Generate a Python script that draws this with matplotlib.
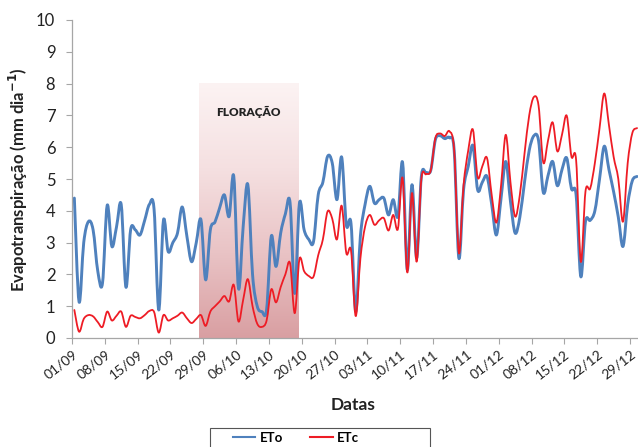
import numpy as np
import matplotlib
matplotlib.use("Agg")
import matplotlib.pyplot as plt
from matplotlib.colors import LinearSegmentedColormap
from matplotlib.path import Path
from matplotlib.patches import PathPatch, Rectangle
from matplotlib.lines import Line2D

# ---- data (daily values, 01/09 .. 30/12) ----
eto = [4.4, 1.14, 3.0, 3.66, 3.4, 2.1, 1.72, 4.17, 2.88, 3.5,
       4.19, 1.6, 3.4, 3.4, 3.24, 3.7, 4.2, 4.05, 0.88, 3.7,
       2.72, 3.0, 3.3, 4.12, 3.2, 2.4, 3.0, 3.72, 1.83, 3.4,
       3.65, 4.1, 4.5, 3.82, 5.08, 1.56, 3.5, 4.82, 2.0, 1.0,
       0.83, 0.9, 3.2, 2.25, 3.3, 3.9, 4.26, 1.4, 4.24, 3.4,
       3.1, 3.03, 4.5, 4.9, 5.71, 5.5, 4.35, 5.69, 3.56, 3.6,
       0.83, 3.2, 4.2, 4.77, 4.24, 4.35, 4.4, 3.87, 4.35, 3.82,
       5.52, 2.14, 4.82, 2.51, 5.08, 5.2, 5.27, 6.24, 6.36, 6.27,
       6.3, 5.9, 2.51, 4.66, 5.4, 6.05, 4.66, 4.9, 5.08, 4.2,
       3.24, 4.4, 5.55, 4.3, 3.3, 3.8, 4.9, 5.9, 6.36, 6.2,
       4.58, 5.1, 5.55, 4.79, 5.3, 5.66, 4.7, 4.5, 1.93, 3.66,
       3.7, 4.0, 5.0, 6.03, 5.3, 4.6, 3.8, 2.88, 4.2, 4.95,
       5.08]
etc = [0.88, 0.2, 0.6, 0.72, 0.68, 0.5, 0.35, 0.83, 0.55, 0.7,
       0.83, 0.35, 0.7, 0.66, 0.62, 0.72, 0.85, 0.82, 0.17, 0.72,
       0.55, 0.62, 0.7, 0.8, 0.62, 0.47, 0.6, 0.72, 0.38, 0.83,
       1.0, 1.15, 1.32, 1.15, 1.67, 0.52, 1.2, 1.85, 1.0, 0.45,
       0.35, 0.55, 1.53, 1.12, 1.6, 2.0, 2.35, 0.78, 2.48, 2.1,
       1.95, 1.93, 2.6, 3.1, 3.98, 3.75, 3.1, 4.16, 2.67, 2.75,
       0.69, 2.5, 3.5, 3.87, 3.56, 3.7, 3.77, 3.38, 3.87, 3.43,
       5.03, 2.06, 4.56, 2.4, 5.0, 5.15, 5.27, 6.29, 6.43, 6.35,
       6.5, 5.9, 2.67, 4.8, 5.9, 6.55, 5.06, 5.4, 5.66, 4.5,
       3.63, 4.8, 6.39, 4.9, 3.82, 4.5, 5.8, 7.0, 7.58, 7.3,
       5.52, 6.2, 6.78, 5.87, 6.4, 6.99, 5.71, 5.6, 2.4, 4.61,
       4.7, 5.5, 6.6, 7.69, 6.7, 5.7, 5.0, 3.66, 5.5, 6.45,
       6.6]
tick_labels = ["01/09", "08/09", "15/09", "22/09", "29/09", "06/10", "13/10",
               "20/10", "27/10", "03/11", "10/11", "17/11", "24/11", "01/12",
               "08/12", "15/12", "22/12", "29/12"]
flower_start, flower_end = 27.0, 48.2   # days since 01/09
flower_top = 8
flower_label = "FLORAÇÃO"

plt.rcParams['font.family'] = ['Lato', 'DejaVu Sans']
plt.rcParams['mathtext.fontset'] = 'dejavusans'

W, H = 638, 447
fig = plt.figure(figsize=(W / 100, H / 100), dpi=100)
ax = fig.add_axes([72 / W, (H - 338) / H, (638 - 72) / W, (338 - 20) / H])

days = np.arange(len(eto)) + 0.5


def smooth_path(x, y, tension=1.0):
    """Smoothed line through the data points (Catmull-Rom as cubic Bezier)."""
    x = np.asarray(x, float)
    y = np.asarray(y, float)
    pts = np.column_stack([x, y])
    n = len(pts)
    verts = [pts[0]]
    codes = [Path.MOVETO]
    for i in range(n - 1):
        p0 = pts[i - 1] if i > 0 else pts[i]
        p1 = pts[i]
        p2 = pts[i + 1]
        p3 = pts[i + 2] if i + 2 < n else pts[i + 1]
        c1 = p1 + (p2 - p0) * tension / 6.0
        c2 = p2 - (p3 - p1) * tension / 6.0
        verts += [c1, c2, p2]
        codes += [Path.CURVE4] * 3
    return Path(np.array(verts), codes)


# gradient rectangle
cmap = LinearSegmentedColormap.from_list("fl", ["#fcf3f3", "#f5e0e1", "#e9c3c5", "#d99fa2"])
grad = np.linspace(1, 0, 256).reshape(-1, 1)
ax.imshow(grad, cmap=cmap, vmin=0, vmax=1, origin='lower',
          extent=[flower_start, flower_end, 0, flower_top],
          aspect='auto', zorder=0, interpolation='bilinear')
ax.text((flower_start + flower_end) / 2, 7.1, flower_label, ha='center', va='center',
        fontsize=8.5, fontweight='heavy', color='#222222', zorder=3)

eto_color = '#4f81bd'
etc_color = '#ee1c25'
ax.add_patch(PathPatch(smooth_path(days, eto), facecolor='none', edgecolor=eto_color,
                       lw=2.1, zorder=2, joinstyle='round', capstyle='round'))
ax.add_patch(PathPatch(smooth_path(days, etc), facecolor='none', edgecolor=etc_color,
                       lw=1.3, zorder=2.5, joinstyle='round', capstyle='round'))

ax.set_xlim(0, 120.7)
ax.set_ylim(0, 10)
ax.set_yticks(range(0, 11))
ax.set_xticks(np.arange(len(tick_labels)) * 7)
ax.set_xticklabels(tick_labels, rotation=38, ha='right', rotation_mode='anchor',
                   fontsize=10, color='#222222')
ax.tick_params(axis='y', labelsize=12, length=4, color='#a6a6a6', width=0.8,
               labelcolor='#222222', pad=8)
ax.tick_params(axis='x', length=4, color='#a6a6a6', width=0.8, pad=3)

for s in ['top', 'right']:
    ax.spines[s].set_visible(False)
for s in ['left', 'bottom']:
    ax.spines[s].set_color('#a6a6a6')
    ax.spines[s].set_linewidth(0.9)

fig.text(18 / W, 1 - 180 / H, "Evapotranspiração (mm dia$^{\\mathbf{-1}}$)", rotation=90,
         ha='center', va='center', fontsize=12, fontweight='bold', color='#222222')
fig.text(353 / W, 1 - 405 / H, "Datas", ha='center', va='center', fontsize=12.5,
         fontweight='bold', color='#222222')

# legend box (extends past the bottom edge as in the reference)
fig.patches.append(Rectangle((210 / W, -0.05), (430 - 210) / W, (0.05 + 1 - 428 / H),
                             transform=fig.transFigure, facecolor='white',
                             edgecolor='#555555', lw=0.8, zorder=1))
handles = [Line2D([], [], color=eto_color, lw=1.5), Line2D([], [], color=etc_color, lw=1.5)]
leg = fig.legend(handles, ['ETo', 'ETc'], loc='center',
                 bbox_to_anchor=(296 / W, 1 - 438 / H),
                 ncol=2, frameon=False,
                 handlelength=1.7, handletextpad=0.3, columnspacing=2.1,
                 borderpad=0.0, borderaxespad=0.0,
                 prop={'weight': 'bold', 'size': 9.5})
leg.set_zorder(3)

fig.savefig("out.png", dpi=100)
